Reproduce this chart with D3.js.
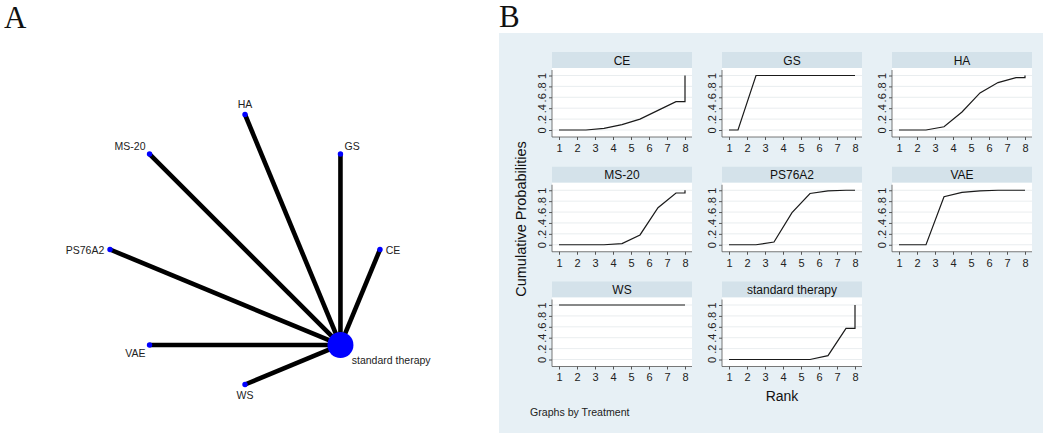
<!DOCTYPE html>
<html>
<head>
<meta charset="utf-8">
<script src="https://cdn.jsdelivr.net/npm/d3@7"></script>
<style>
  body { margin: 0; background: #fff; }
  svg { display: block; font-family: "Liberation Sans", Arial, sans-serif; }
</style>
</head>
<body>
<div class="chartDiv"></div>
<script>
// treatments, in network order (counter-clockwise starting at 3 o'clock)
var treatments = ['CE', 'GS', 'HA', 'MS-20', 'PS76A2', 'VAE', 'WS', 'standard therapy'];
// node weight (bigger for the common comparator)
var nodeWeight = [1, 1, 1, 1, 1, 1, 1, 7];
// every comparison goes to standard therapy
var edgeFrom = ['CE', 'GS', 'HA', 'MS-20', 'PS76A2', 'VAE', 'WS'];
var edgeTo = ['standard therapy', 'standard therapy', 'standard therapy', 'standard therapy',
    'standard therapy', 'standard therapy', 'standard therapy'];
var edgeWeight = [1, 1, 1, 1, 1, 1, 1];

// rank positions of the cumulative ranking curves
var rankPoints = [1, 1.5, 2.5, 3.5, 4.5, 5.5, 6.5, 7.5, 8, 8];
var cumCE = [0, 0, 0, 0.03, 0.10, 0.20, 0.36, 0.52, 0.52, 1];
var cumGS = [0, 0, 1, 1, 1, 1, 1, 1, 1, 1];
var cumHA = [0, 0, 0, 0.06, 0.33, 0.68, 0.87, 0.96, 0.96, 1];
var cumMS20 = [0, 0, 0, 0, 0.02, 0.18, 0.68, 0.95, 0.95, 1];
var cumPS76A2 = [0, 0, 0, 0.05, 0.59, 0.94, 0.99, 1, 1, 1];
var cumVAE = [0, 0, 0, 0.88, 0.96, 0.99, 1, 1, 1, 1];
var cumWS = [1, 1, 1, 1, 1, 1, 1, 1, 1, 1];
var cumStd = [0, 0, 0, 0, 0, 0, 0.07, 0.57, 0.57, 1];
var cumSeries = [cumCE, cumGS, cumHA, cumMS20, cumPS76A2, cumVAE, cumWS, cumStd];

var xTicks = [1, 2, 3, 4, 5, 6, 7, 8];
var xTickLabels = ['1', '2', '3', '4', '5', '6', '7', '8'];
var yTicks = [0, 0.2, 0.4, 0.6, 0.8, 1];
var yTickLabels = ['0', '.2', '.4', '.6', '.8', '1'];

const width = 1052;
const height = 436;

var svg = d3.select('.chartDiv')
    .append('svg')
    .attr('width', width)
    .attr('height', height);

// ---------- panel A : network ----------
svg.append('text')
    .attr('x', 4)
    .attr('y', 28)
    .style('font-family', '"Liberation Serif", "Times New Roman", serif')
    .style('font-size', '31px')
    .attr('fill', '#111')
    .text('A');

const netCx = 245;
const netCy = 249.5;
const netR = 135;

var netX = d3.scaleLinear().domain([-1, 1]).range([netCx - netR, netCx + netR]);
var netY = d3.scaleLinear().domain([-1, 1]).range([netCy + netR, netCy - netR]);
var nodeR = d3.scaleLinear().domain([1, 7]).range([2.7, 13]);
var edgeW = d3.scaleLinear().domain([0, 1]).range([0, 4.6]);

var nodes = treatments.map(function (t, i) {
    const a = i * 2 * Math.PI / treatments.length;
    return {name: t, angle: a, x: netX(Math.cos(a)), y: netY(Math.sin(a)), r: nodeR(nodeWeight[i])};
});
var nodeByName = new Map(nodes.map(d => [d.name, d]));

var edges = edgeFrom.map(function (f, i) {
    return {source: nodeByName.get(f), target: nodeByName.get(edgeTo[i]), w: edgeWeight[i]};
});

svg.append('g').selectAll('line')
    .data(edges)
    .enter()
    .append('line')
    .attr('x1', d => d.source.x)
    .attr('y1', d => d.source.y)
    .attr('x2', d => d.target.x)
    .attr('y2', d => d.target.y)
    .attr('stroke', '#000')
    .attr('stroke-width', d => edgeW(d.w));

svg.append('g').selectAll('circle')
    .data(nodes)
    .enter()
    .append('circle')
    .attr('cx', d => d.x)
    .attr('cy', d => d.y)
    .attr('r', d => d.r)
    .attr('fill', '#0000ff');

// labels sit outside the node, in the direction of the node from the ring centre
svg.append('g').selectAll('text')
    .data(nodes)
    .enter()
    .append('text')
    .attr('x', d => d.x + Math.cos(d.angle) * (d.r + 3))
    .attr('y', d => d.y - Math.sin(d.angle) * (d.r + 8))
    .attr('dominant-baseline', 'central')
    .attr('text-anchor', d => {
        const c = Math.cos(d.angle);
        return c > 0.3 ? 'start' : (c < -0.3 ? 'end' : 'middle');
    })
    .style('font-size', '10.5px')
    .attr('fill', '#222')
    .text(d => d.name);

// ---------- panel B : cumulative ranking plots ----------
svg.append('text')
    .attr('x', 499)
    .attr('y', 27)
    .style('font-family', '"Liberation Serif", "Times New Roman", serif')
    .style('font-size', '31px')
    .attr('fill', '#111')
    .text('B');

svg.append('rect')
    .attr('x', 499)
    .attr('y', 33)
    .attr('width', 544)
    .attr('height', 400)
    .attr('fill', '#e7f0f5');

const panelW = 140;
const headerH = 16;
const colStep = 170;
const rowStep = 114.75;
const firstLeft = 552;
const firstTop = 52;
const nCols = 3;

var line = d3.line();

treatments.forEach(function (t, i) {
    const col = i % nCols;
    const row = Math.floor(i / nCols);
    const left = firstLeft + col * colStep;
    const top = firstTop + row * rowStep;
    const plotTop = top + headerH;
    const plotBottom = top + 85;

    const x = d3.scaleLinear().domain([1, 8]).range([left + 7, left + 133]);
    const y = d3.scaleLinear().domain([0, 1]).range([top + 78, top + 23.5]);

    const g = svg.append('g');

    g.append('rect')
        .attr('x', left)
        .attr('y', top)
        .attr('width', panelW)
        .attr('height', headerH)
        .attr('fill', '#d4e2ea');

    g.append('text')
        .attr('x', left + panelW / 2)
        .attr('y', top + headerH / 2 + 0.5)
        .attr('text-anchor', 'middle')
        .attr('dominant-baseline', 'central')
        .style('font-size', '12px')
        .attr('fill', '#111')
        .text(t);

    g.append('rect')
        .attr('x', left)
        .attr('y', plotTop)
        .attr('width', panelW)
        .attr('height', plotBottom - plotTop)
        .attr('fill', '#fff');

    g.selectAll('.grid')
        .data(yTicks)
        .enter()
        .append('line')
        .attr('class', 'grid')
        .attr('x1', left)
        .attr('x2', left + panelW)
        .attr('y1', d => y(d))
        .attr('y2', d => y(d))
        .attr('stroke', '#e3e8eb')
        .attr('stroke-width', 0.8);

    // axis lines span the whole plot region
    g.append('line')
        .attr('x1', left).attr('x2', left)
        .attr('y1', plotTop + 2).attr('y2', plotBottom)
        .attr('stroke', '#555').attr('stroke-width', 0.8);
    g.append('line')
        .attr('x1', left).attr('x2', left + panelW)
        .attr('y1', plotBottom).attr('y2', plotBottom)
        .attr('stroke', '#555').attr('stroke-width', 0.8);

    const xAxis = g.append('g')
        .attr('transform', 'translate(0,' + plotBottom + ')')
        .call(d3.axisBottom(x).tickValues(xTicks).tickSize(3).tickSizeOuter(0).tickPadding(4)
            .tickFormat((d, k) => xTickLabels[k]));
    xAxis.select('.domain').remove();
    xAxis.selectAll('line').attr('stroke', '#555');
    xAxis.selectAll('text')
        .style('font-size', '11px')
        .style('font-family', '"Liberation Sans", Arial, sans-serif')
        .attr('fill', '#222');

    const yAxis = g.append('g')
        .attr('transform', 'translate(' + left + ',0)')
        .call(d3.axisLeft(y).tickValues(yTicks).tickSize(3).tickSizeOuter(0)
            .tickFormat((d, k) => yTickLabels[k]));
    yAxis.select('.domain').remove();
    yAxis.selectAll('line').attr('stroke', '#555');
    yAxis.selectAll('text')
        .attr('transform', 'rotate(-90)')
        .attr('x', 0)
        .attr('y', -6)
        .attr('dy', 0)
        .attr('text-anchor', 'middle')
        .style('font-size', '11px')
        .style('font-family', '"Liberation Sans", Arial, sans-serif')
        .attr('fill', '#222');

    g.append('path')
        .datum(rankPoints.map((r, k) => [x(r), y(cumSeries[i][k])]))
        .attr('d', line)
        .attr('fill', 'none')
        .attr('stroke', '#1a1a1a')
        .attr('stroke-width', 1.2);
});

svg.append('text')
    .attr('transform', 'translate(526,219) rotate(-90)')
    .attr('text-anchor', 'middle')
    .style('font-size', '14.5px')
    .attr('fill', '#111')
    .text('Cumulative Probabilities');

svg.append('text')
    .attr('x', 782)
    .attr('y', 401)
    .attr('text-anchor', 'middle')
    .style('font-size', '14px')
    .attr('fill', '#111')
    .text('Rank');

svg.append('text')
    .attr('x', 530)
    .attr('y', 416)
    .style('font-size', '10.6px')
    .attr('fill', '#222')
    .text('Graphs by Treatment');
</script>
</body>
</html>
